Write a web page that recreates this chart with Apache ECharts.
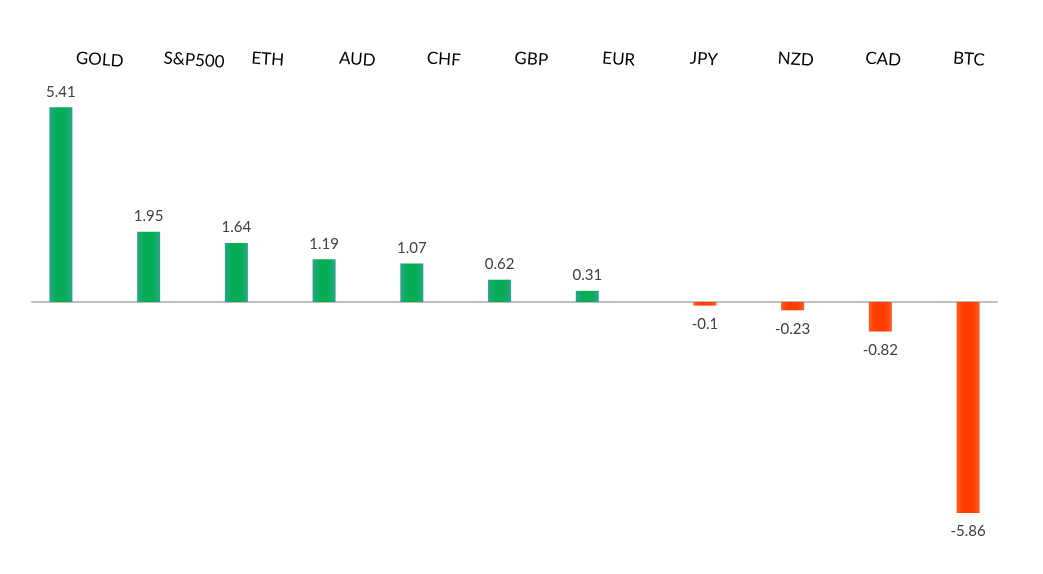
<!DOCTYPE html>
<html>
<head>
<meta charset="utf-8">
<script src="https://cdn.jsdelivr.net/npm/echarts@6/dist/echarts.min.js"></script>
<style>
html,body{margin:0;padding:0;background:#fff;}
#chart{width:1043px;height:574px;}
</style>
</head>
<body>
<div id="chart"></div>
<script>
const categories = ['GOLD','S&P500','ETH','AUD','CHF','GBP','EUR','JPY','NZD','CAD','BTC'];
const values = [5.41, 1.95, 1.64, 1.19, 1.07, 0.62, 0.31, -0.1, -0.23, -0.82, -5.86];

const positive = values.map(v => v >= 0 ? v : '-');
const negative = values.map(v => v < 0 ? v : '-');

const greenGrad = new echarts.graphic.LinearGradient(0,0,1,0,[
  {offset:0,color:'#2aa38b'},{offset:0.3,color:'#05ae55'},{offset:0.7,color:'#05ae55'},{offset:1,color:'#2aa38b'}]);
const redGrad = new echarts.graphic.LinearGradient(0,0,1,0,[
  {offset:0,color:'#ff5c1e'},{offset:0.3,color:'#ff3c02'},{offset:0.7,color:'#ff3c02'},{offset:1,color:'#ff5c1e'}]);

const chart = echarts.init(document.getElementById('chart'), null, {renderer:'canvas'});
chart.setOption({
  animation:false,
  backgroundColor:'#ffffff',
  grid:{left:32,right:46,top:86,bottom:20},
  xAxis:[{
    type:'category', data:categories, position:'bottom',
    axisLine:{show:true,onZero:true,lineStyle:{color:'#bfbfbf',width:2}},
    axisTick:{show:false}, axisLabel:{show:false}, splitLine:{show:false}
  },{
    type:'category', data:categories, position:'top',
    axisLine:{show:false}, axisTick:{show:false}, splitLine:{show:false},
    axisLabel:{show:true, interval:0, rotate:4, align:'left', verticalAlign:'middle', margin:28,
      fontFamily:'Lato', fontSize:17, color:'#000000'}
  }],
  yAxis:{type:'value', min:-7, max:6, show:false, splitLine:{show:false}},
  series:[{
    type:'bar', data:positive, barWidth:23, barGap:'30%',
    itemStyle:{color:greenGrad},
    label:{show:true, position:'top', distance:8, fontFamily:'Lato', fontSize:15, color:'#404040'}
  },{
    type:'bar', data:negative, barWidth:23, barGap:'30%',
    itemStyle:{color:redGrad},
    label:{show:true, position:'bottom', distance:11, fontFamily:'Lato', fontSize:15, color:'#404040'}
  }]
});
</script>
</body>
</html>
